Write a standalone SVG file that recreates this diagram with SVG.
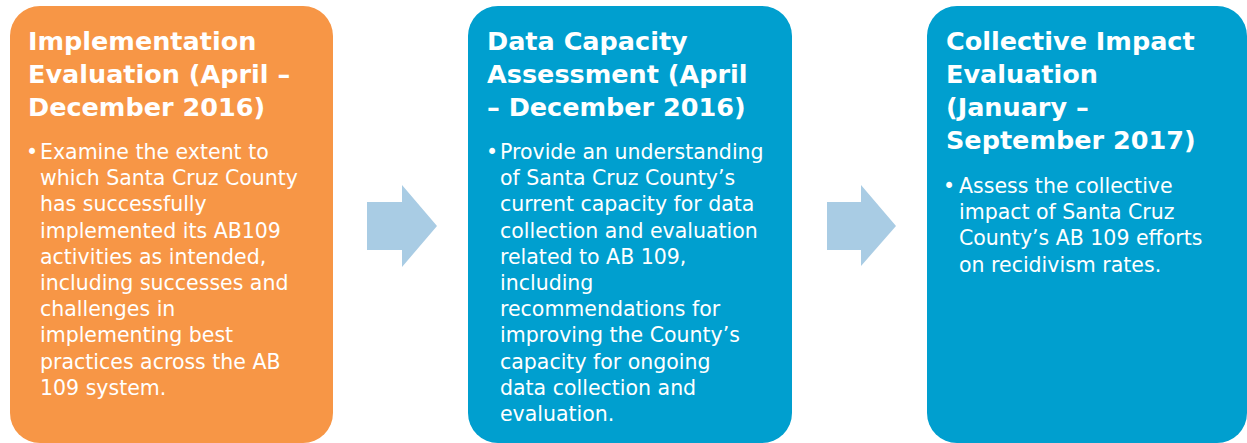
<svg xmlns="http://www.w3.org/2000/svg" width="1247" height="443" viewBox="0 0 1247 443">
<style>
.title{font-family:"DejaVu Sans","Liberation Sans",sans-serif;font-weight:bold;font-size:25.5px;fill:#ffffff}
.body{font-family:"DejaVu Sans","Liberation Sans",sans-serif;font-size:20.5px;fill:#ffffff}
.orange{fill:#F79646}
.blue{fill:#009FCF}
.arrow{fill:#A9CCE4}
</style>
<rect width="1247" height="443" fill="#ffffff"/>
<g id="connectors">
<polygon class="arrow" points="367,202 402,202 402,185 437,226 402,267 402,250 367,250"/>
<polygon class="arrow" points="827,202 861,202 861,185 896,226 861,266 861,250 827,250"/>
</g>
<g id="node-implementation">
<rect class="orange" x="10" y="6" width="323" height="437" rx="30" ry="30"/>
<text class="title"><tspan x="28" y="50">Implementation</tspan><tspan x="28" y="83">Evaluation (April –</tspan><tspan x="28" y="116">December 2016)</tspan></text>
<text class="body" x="26" y="159">•</text>
<text class="body"><tspan x="40" y="159">Examine the extent to</tspan><tspan x="40" dy="26.2">which Santa Cruz County</tspan><tspan x="40" dy="26.2">has successfully</tspan><tspan x="40" dy="26.2">implemented its AB109</tspan><tspan x="40" dy="26.2">activities as intended,</tspan><tspan x="40" dy="26.2">including successes and</tspan><tspan x="40" dy="26.2">challenges in</tspan><tspan x="40" dy="26.2">implementing best</tspan><tspan x="40" dy="26.2">practices across the AB</tspan><tspan x="40" dy="26.2">109 system.</tspan></text>
</g>
<g id="node-data-capacity">
<rect class="blue" x="468" y="6" width="324" height="437" rx="30" ry="30"/>
<text class="title"><tspan x="487" y="50">Data Capacity</tspan><tspan x="487" y="83">Assessment (April</tspan><tspan x="487" y="116">– December 2016)</tspan></text>
<text class="body" x="486" y="159">•</text>
<text class="body"><tspan x="500" y="159">Provide an understanding</tspan><tspan x="500" dy="26.2">of Santa Cruz County’s</tspan><tspan x="500" dy="26.2">current capacity for data</tspan><tspan x="500" dy="26.2">collection and evaluation</tspan><tspan x="500" dy="26.2">related to AB 109,</tspan><tspan x="500" dy="26.2">including</tspan><tspan x="500" dy="26.2">recommendations for</tspan><tspan x="500" dy="26.2">improving the County’s</tspan><tspan x="500" dy="26.2">capacity for ongoing</tspan><tspan x="500" dy="26.2">data collection and</tspan><tspan x="500" dy="26.2">evaluation.</tspan></text>
</g>
<g id="node-collective-impact">
<rect class="blue" x="927" y="6" width="320" height="437" rx="30" ry="30"/>
<text class="title"><tspan x="946" y="50">Collective Impact</tspan><tspan x="946" y="83">Evaluation</tspan><tspan x="946" y="116">(January –</tspan><tspan x="946" y="149">September 2017)</tspan></text>
<text class="body" x="943" y="193">•</text>
<text class="body"><tspan x="959" y="193">Assess the collective</tspan><tspan x="959" dy="26.2">impact of Santa Cruz</tspan><tspan x="959" dy="26.2">County’s AB 109 efforts</tspan><tspan x="959" dy="26.2">on recidivism rates.</tspan></text>
</g>
</svg>
